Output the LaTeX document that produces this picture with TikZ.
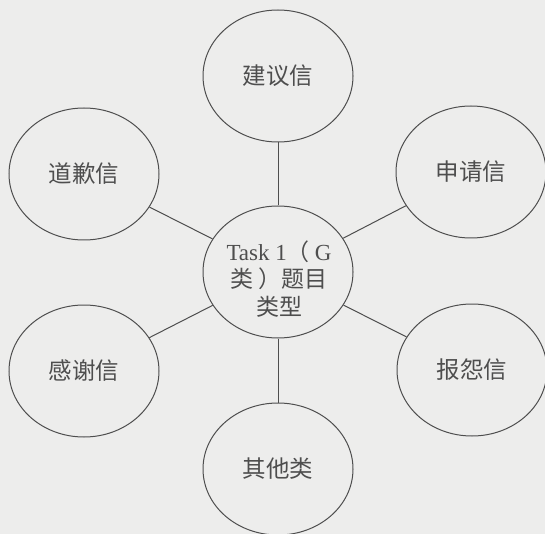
\documentclass[tikz,border=0pt]{standalone}
\usepackage{fontspec}
\setmainfont{Liberation Serif}
\newfontfamily\cjk{Noto Sans CJK SC}
\usetikzlibrary{shapes.geometric}
\definecolor{bgc}{HTML}{EDEDEC}
\definecolor{inkc}{HTML}{4E4E4E}
\tikzset{
  bubble/.style={ellipse, draw=inkc, line width=1pt, minimum width=150pt, minimum height=132pt, inner sep=0pt, text=inkc, font=\fontsize{23.5}{28}\selectfont\cjk},
  link/.style={draw=inkc, line width=1pt}
}
\begin{document}
\begin{tikzpicture}[x=1pt,y=-1pt]
\fill[bgc] (0,0) rectangle (545,534);
\useasboundingbox (0,0) rectangle (545,534);
\clip (0,0) rectangle (545,534);
\node[bubble] (c) at (278,272) {};
\node[align=center, text=inkc, font=\fontsize{23}{27.5}\selectfont, inner sep=0pt] (ct) at (279,279) {Task 1{\cjk （}\hspace{5pt}G\\{\cjk 类\hspace{5pt}）题目}\\{\cjk 类型}};
\node[bubble] (top) at (278,76) {建议信};
\node[bubble] (ul) at (84,174) {道歉信};
\node[bubble] (ur) at (471,172) {申请信};
\node[bubble] (ll) at (84,371) {感谢信};
\node[bubble] (lr) at (472,370) {报怨信};
\node[bubble] (bot) at (278,469) {其他类};
\foreach \n in {top,ul,ur,ll,lr,bot} \draw[link] (c) -- (\n);
\end{tikzpicture}
\end{document}
